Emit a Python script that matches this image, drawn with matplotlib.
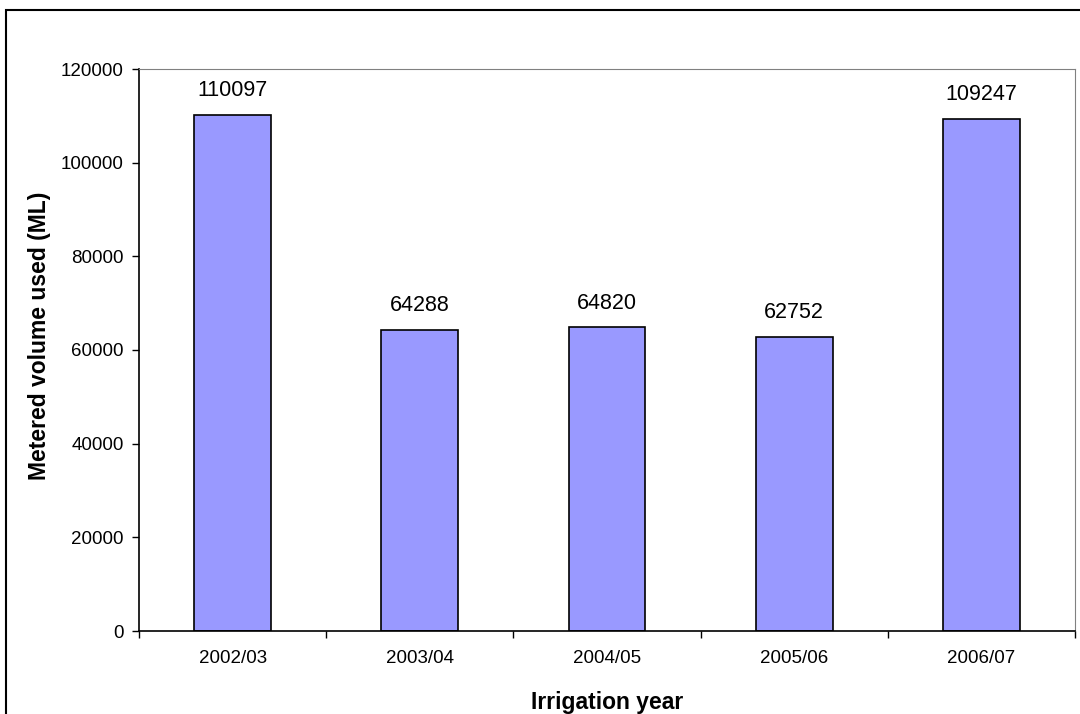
import matplotlib.pyplot as plt
from matplotlib.patches import Rectangle

plt.rcParams['font.family'] = ['Liberation Sans', 'DejaVu Sans']

years = ['2002/03', '2003/04', '2004/05', '2005/06', '2006/07']
volumes = [110097, 64288, 64820, 62752, 109247]

fig = plt.figure(figsize=(10.8, 7.14), dpi=100)
ax = fig.add_axes([139 / 1080, 1 - 631 / 714, (1075 - 139) / 1080, (631 - 69) / 714])

x = list(range(len(years)))
bars = ax.bar(x, volumes, width=0.41, color='#9999ff', edgecolor='black', linewidth=1.2)

for xi, v in zip(x, volumes):
    ax.annotate(str(v), (xi, v), xytext=(0, 10), textcoords='offset points',
                ha='center', va='bottom', fontsize=15.5)

ax.set_xlim(-0.5, len(years) - 0.5)
ax.set_ylim(0, 120000)
ax.set_yticks(range(0, 120001, 20000))
ax.tick_params(axis='y', labelsize=13.5, length=5, direction='out', width=1, pad=6)

# category ticks sit between bars, labels under bar centres
ax.set_xticks([i - 0.5 for i in range(len(years) + 1)])
ax.set_xticklabels([])
ax.set_xticks(x, minor=True)
ax.set_xticklabels(years, minor=True, fontsize=13.5)
ax.tick_params(axis='x', which='major', length=5, direction='out', width=1)
ax.tick_params(axis='x', which='minor', length=0, pad=14)

ax.spines['top'].set_color('#808080')
ax.spines['right'].set_color('#808080')
for s in ['left', 'bottom']:
    ax.spines[s].set_linewidth(1.2)

ax.set_ylabel('Metered volume used (ML)', fontsize=16.5, fontweight='bold', va='center')
ax.yaxis.set_label_coords(-0.106, 0.525)
ax.set_xlabel('Irrigation year', fontsize=16.5, fontweight='bold', va='center')
ax.xaxis.set_label_coords(0.5, -0.128)

# outer chart border
fig.patches.append(Rectangle((6 / 1080, -0.1), 1.2, 1 - 10 / 714 + 0.1,
                             transform=fig.transFigure, fill=False,
                             edgecolor='black', linewidth=1.5))

fig.savefig('out.png', dpi=100)
